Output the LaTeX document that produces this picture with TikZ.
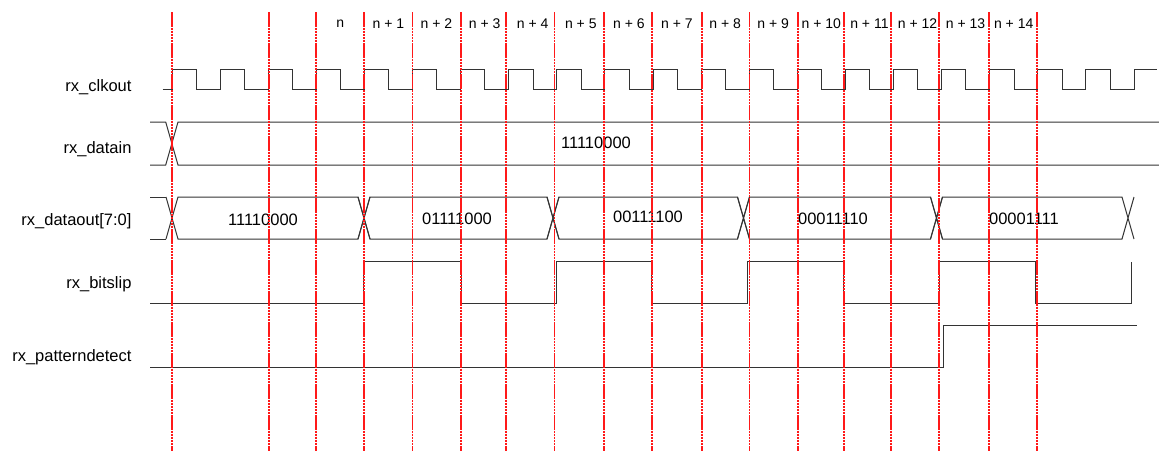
\documentclass[tikz,border=0pt]{standalone}
\usepackage{fontspec}
\setmainfont{Liberation Sans}
\usepackage{tikz}

\begin{document}
\begin{tikzpicture}[x=1pt,y=-1pt,
    sig/.style={line width=1pt, black!80},
    cutline/.style={red!90!white, line width=1.6pt, dash pattern=on 2.5pt off 0.6pt},
    siglabel/.style={anchor=east, inner sep=0pt, font=\fontsize{16.5}{19}\selectfont},
    buslabel/.style={inner sep=0pt, font=\fontsize{16.5}{19}\selectfont},
    cyclabel/.style={inner sep=0pt, font=\fontsize{14}{16}\selectfont}]
    \useasboundingbox (0,0) rectangle (1159,451);
    \node[siglabel] (clk) at (131.7,87) {rx\_clkout};
    \node[siglabel] (din) at (131.7,149) {rx\_datain};
    \node[siglabel] (dout) at (131.7,221) {rx\_dataout[7:0]};
    \node[siglabel] (slip) at (131.7,284) {rx\_bitslip};
    \node[siglabel] (pdet) at (131.7,357) {rx\_patterndetect};
    \node[cyclabel] (cyc0) at (340.3,24) {n};
    \foreach \i in {1,...,14}
      \node[cyclabel] (cyc\i) at ({340.3+48.1*\i},24) {n + \i};
    \draw[sig] (162.7,89) \foreach \k in {0,...,19} {
        -- ({172+48.1*\k},89) -- ({172+48.1*\k},69) -- ({196.3+48.1*\k},69) -- ({196.3+48.1*\k},89)}
      -- (1134,89) -- (1134,69) -- (1157,69);
    \draw[sig] (150,122) -- (165.7,122) -- (178,165) -- (1159,165);
    \draw[sig] (150,165) -- (165.7,165) -- (178,122) -- (1159,122);
    \node[buslabel] (dinval) at (596,143) {11110000};
    \draw[sig] (150,197) -- (166,197) (150,239) -- (166,239);
    \foreach \c/\d in {172/364,364/553,553/743.5,743.5/936.5,936.5/1128}
      \draw[sig] ({\c-6},197) -- ({\c+6},239) -- ({\d-6},239) -- ({\d+6},197)
                 ({\c-6},239) -- ({\c+6},197) -- ({\d-6},197) -- ({\d+6},239);
    \foreach \x/\y/\v [count=\n] in {263/220/11110000,457/219/01111000,648/217/00111100,833/219/00011110,1024/219/00001111}
      \node[buslabel] (doutval\n) at (\x,\y) {\v};
    \draw[sig] (150,303) -- (363,303) -- (363,261) -- (461,261) -- (461,303) -- (556,303) -- (556,261)
      -- (651,261) -- (651,303) -- (747,303) -- (747,261) -- (843.5,261) -- (843.5,303) -- (939.5,303)
      -- (939.5,261) -- (1035,261) -- (1035,303) -- (1131,303) -- (1131,262);
    \draw[sig] (150,367) -- (943,367) -- (943,325) -- (1137,325);
    \foreach \x in {172,268.7,316,364,412.3,460.7,506,554.3,604,651.7,701.7,749.3,797.7,843.7,890.7,938.7,989,1036.7}
      \draw[cutline] (\x,12) -- (\x,451);
  \end{tikzpicture}
\end{document}
